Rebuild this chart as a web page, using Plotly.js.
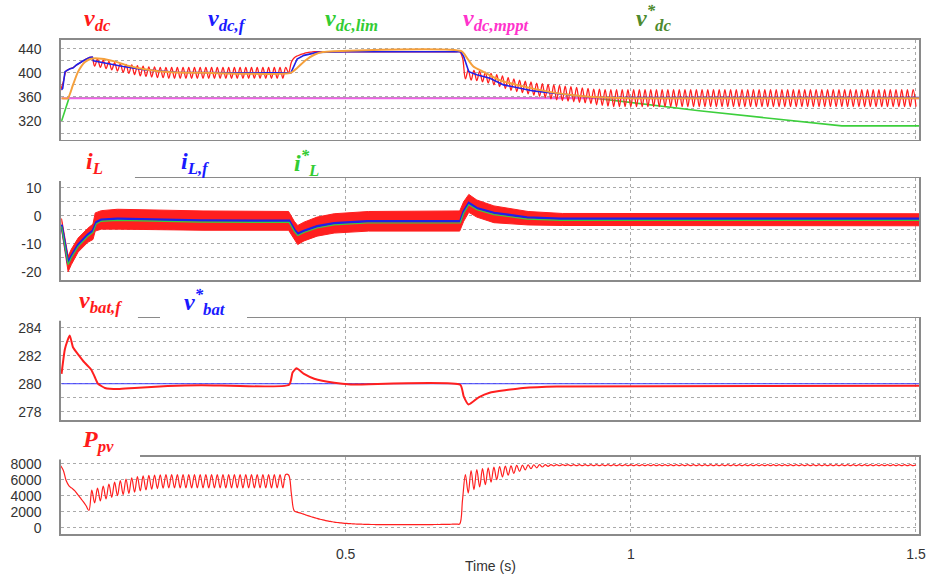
<!DOCTYPE html>
<html>
<head>
<meta charset="utf-8">
<script src="https://cdn.plot.ly/plotly-3.0.1.min.js"></script>
<style>html,body{margin:0;padding:0;background:#fff;}#chart{width:930px;height:574px;}</style>
</head>
<body>
<div id="chart"></div>
<script>
// ---------------- DATA ----------------
const T_STEP = 0.005; // sampling step of the rippled traces (s)

// Panel 1: v_dc (red, rippled) in three sampled segments
const vdcRiseStart = 0.000;
const vdcRise = [
370,385,403,406,408,410.5,414,417,420,423,425,426,
411,423,409,421,407,419,405,417,403,415,401,414,399,413,397,412,395,411,394,410,393,410,392,409,392,409,391,
409,391,409,391,409,391,409,391,409,391,
409,391,409,391,409,391,409,391,409,391,
409,391,409,391,409,391,409,391,409,391,
409,391,409,391,409,391,409,391,409,391,
409,
400,418,425,428,430,431.5,433,434,434.5
];
const vdcHighStart = 0.445;
const vdcHigh = [
435,435,435,435,435,435,435,435,435,435,435,435,435,
435,435,435,435,435,435,435,435,435,435,435,435,435,
435,435,435,435,435,435,435,435,435,435,435,435,435,
435,435,435,435,435,435,435,435,435,435,435,435,435
];
const vdcFallStart = 0.705;
const vdcFall = [
425,390,405,388,404,387,403,385,401,383,399,380,397,377,395,374,392,371,390,369,388,367,386,365,385,363,383,361,382,359,381,357,380,355,379,354,378,353,377,352,376,351,375,350,374,349,373,347,373,346,372,345,372,
344,372,344,372,344,372,344,372,344,372,
344,372,344,372,344,372,344,372,344,372,
344,372,344,372,344,372,344,372,344,372,
344,372,344,372,344,372,344,372,344,372,
344,372,344,372,344,372,344,372,344,372,
344,372,344,372,344,372,344,372,344,372,
344,372,344,372,344,372,344,372,344,372,
344,372,344,372,344,372,344,372,344,372,
344,372,344,372,344,372,344,372,344,372,
344,372,344,372,344,372,344,372,344,372,
344,372,344,372,344,372,
344
];
// v_dc,f (blue)
const vdcfT = [0.002,0.004,0.008,0.0166,0.022,0.028,0.04,0.051,0.056,0.058,0.08,0.11,0.15,0.203,0.3,0.404,0.415,0.427,0.45,0.5,0.702,0.707,0.716,0.73,0.753,0.777,0.829,0.887,0.934,1.0,1.506];
const vdcfV = [372,374,402,406.7,408,413,420,425.5,426,420,416,410.5,405,401,400,400,423,429,434,435,435,427,402,396.7,391,380,370,363.3,359,359,359];
// v*_dc (orange line)
const vdcRefT = [0.002,0.013,0.022,0.031,0.043,0.054,0.072,0.095,0.118,0.153,0.194,0.25,0.404,0.415,0.43,0.445,0.46,0.48,0.703,0.713,0.724,0.741,0.77,0.8,0.86,0.9,0.94,1.0,1.506];
const vdcRefV = [358,358,380,402,418,423.5,423.5,419,412,405,401,400,400,408,421,430,434.5,436,436,424.4,410.5,402,388,380,368,363,359.5,358,358];
// v_dc,lim (green)
const vdcLimT = [0.002,0.015,0.937,1.12,1.37,1.506];
const vdcLimV = [320,358,358,337,312,312];
// v_dc,mppt (magenta)
const vdcMpptT = [0.002,1.506];
const vdcMpptV = [358,358];

// Panel 2: i_L band (red), i_L,f (blue), i*_L (green)
const iLBandT = [0.002,0.0076,0.0135,0.019,0.031,0.048,0.057,0.061,0.0716,0.1,0.16,0.25,0.4,0.41,0.416,0.427,0.45,0.48,0.54,0.70,0.707,0.716,0.73,0.76,0.82,0.88,1.506];
const iLTop    = [-1,-7,-14.5,-12,-8,-4.5,-3,1,1.8,2.3,2,1.7,1.5,-2,-3.5,-2.3,-0.5,0.7,1.5,1.7,5,7.6,5.6,3.5,1.5,0.8,0.7];
const iLBottom = [-5,-12,-20,-17.5,-13,-9.5,-8.5,-5.5,-4.8,-4.8,-5,-5.2,-5.2,-8.5,-10.3,-9,-7.3,-6.2,-5.5,-5.5,-2,1.2,-0.5,-2.5,-3.3,-3.5,-3.6];
const iLfT = [0.002,0.0076,0.0135,0.019,0.031,0.048,0.057,0.063,0.0716,0.1,0.159,0.246,0.401,0.41,0.416,0.427,0.45,0.48,0.538,0.701,0.707,0.716,0.73,0.76,0.818,0.876,1.506];
const iLfV   = [-3.2,-10.4,-16.9,-14.5,-10.4,-6.8,-5.4,-2.3,-1.4,-1.1,-1.3,-1.7,-1.8,-5,-6.5,-5.4,-3.8,-2.7,-2.0,-2.0,1.5,4.5,2.7,1,-0.6,-1.1,-1.1];
const iLRefV = [-3.8,-11,-17.5,-15.1,-11,-7.4,-6,-2.9,-2,-1.7,-1.9,-2.3,-2.4,-5.6,-7.1,-6,-4.4,-3.3,-2.6,-2.6,0.9,3.9,2.1,0.4,-1.2,-1.7,-1.7];

// Panel 3: v_bat,f (red), v*_bat (blue)
const vbatT = [0.002,0.008,0.0163,0.022,0.031,0.0425,0.054,0.06,0.066,0.078,0.101,0.13,0.188,0.247,0.401,0.407,0.414,0.427,0.445,0.48,0.509,0.701,0.707,0.7156,0.734,0.7525,0.782,0.811,0.87,1.506];
const vbatV = [280.7,282.5,283.45,282.6,282.1,281.5,281.0,280.5,280.0,279.7,279.62,279.7,279.83,279.9,279.93,280.8,281.1,280.7,280.36,280.07,279.95,279.93,279.1,278.52,279.05,279.36,279.55,279.7,279.81,279.86];
const vbatRefT = [0.002,1.506];
const vbatRefV = [280,280];

// Panel 4: P_pv (red, rippled) in three sampled segments
const ppvAStart = 0.000;
const ppvA = [
7800,7200,5900,5250,4950,4650,4170,3720,3260,2750,2150,
4700,3100,4950,3350,5200,3600,5450,3800,5700,4000,5900,4150,6100,4300,6250,4450,6400,4600,6480,4720,6550,4820,6600,4900,6630,4950,
6650,4970,6650,4970,6650,4970,6650,4970,6650,4970,
6650,4970,6650,4970,6650,4970,6650,4970,6650,4970,
6650,4970,6650,4970,6650,4970,6650,4970,6650,4970,
6650,4970,6650,4970,6650,4970,6650,4970,6650,4970,
6650,4970,
6650
];
const ppvBStart = 0.400;
const ppvB = [
6600,4200,2100,1950,1850,1720,1600,1480,1370,1260,1160,1060,970,890,820,760,700,650,610,570,540,510,490,470,450,440,430,
420,410,400,395,390,385,380,380,375,375,375,370,370,370,370,370,375,375,380,380,380,385,390,390,395,400,400,405,410,420,430,440,450,460
];
const ppvCStart = 0.705;
const ppvC = [
3500,6650,4330,7160,4760,7280,5100,7400,5390,7500,5700,7580,6020,7650,6350,7700,6570,7750,6800,7800,7050,7830,7250,7860,7400,7880,7500,7900,7600,7900,7680,7900,7730,7900,7760,7900,7780,
7890,7770,7890,7770,7890,7770,7890,7770,7890,7770,
7890,7770,7890,7770,7890,7770,7890,7770,7890,7770,
7890,7770,7890,7770,7890,7770,7890,7770,7890,7770,
7890,7770,7890,7770,7890,7770,7890,7770,7890,7770,
7890,7770,7890,7770,7890,7770,7890,7770,7890,7770,
7890,7770,7890,7770,7890,7770,7890,7770,7890,7770,
7890,7770,7890,7770,7890,7770,7890,7770,7890,7770,
7890,7770,7890,7770,7890,7770,7890,7770,7890,7770,
7890,7770,7890,7770,7890,7770,7890,7770,7890,7770,
7890,7770,7890,7770,7890,7770,7890,7770,7890,7770,
7890,7770,7890,7770,7890,7770,7890,7770,7890,7770,
7890,7770,7890,7770,7890,7770,7890,7770,7890,7770,
7890,7770,
7890
];

// Tick labels (major, labelled) and minor grid steps
const X_TICKS = [0.5, 1, 1.5];
const X_TICK_TEXT = ['0.5', '1', '1.5'];
const VDC_TICKS = [320,360,400,440];
const VDC_TEXT  = ['320','360','400','440'];
const VDC_MINOR = [300,340,380,420];
const IL_TICKS = [-20,-10,0,10];
const IL_TEXT  = ['-20','-10','0','10'];
const IL_MINOR = [-15,-5,5];
const VBAT_TICKS = [278,280,282,284];
const VBAT_TEXT  = ['278','280','282','284'];
const VBAT_MINOR = [279,281,283];
const PPV_TICKS = [0,2000,4000,6000,8000];
const PPV_TEXT  = ['0','2000','4000','6000','8000'];

// ---------------- BUILD ----------------
function sampleTimes(start, n) {
  return Array.from({length: n}, (_, i) => +(start + i * T_STEP).toFixed(4));
}
const vdcX = [].concat(sampleTimes(vdcRiseStart, vdcRise.length), sampleTimes(vdcHighStart, vdcHigh.length), sampleTimes(vdcFallStart, vdcFall.length));
const vdcY = [].concat(vdcRise, vdcHigh, vdcFall);
const ppvX = [].concat(sampleTimes(ppvAStart, ppvA.length), sampleTimes(ppvBStart, ppvB.length), sampleTimes(ppvCStart, ppvC.length));
const ppvY = [].concat(ppvA, ppvB, ppvC);

const RED = '#ff1f1f', BLUE = '#2020e8', GREEN = '#3ccf3c', ORANGE = '#f5a03c', MAGENTA = '#f060e8';

const traces = [
  // panel 1 (x4/y4)
  {x: vdcLimT, y: vdcLimV, xaxis:'x4', yaxis:'y4', mode:'lines', line:{color:GREEN, width:1.6}},
  {x: vdcMpptT, y: vdcMpptV, xaxis:'x4', yaxis:'y4', mode:'lines', line:{color:MAGENTA, width:2}},
  {x: vdcX, y: vdcY, xaxis:'x4', yaxis:'y4', mode:'lines', line:{color:RED, width:1.3, shape:'spline', smoothing:1}},
  {x: vdcfT, y: vdcfV, xaxis:'x4', yaxis:'y4', mode:'lines', line:{color:BLUE, width:1.6}},
  {x: vdcRefT, y: vdcRefV, xaxis:'x4', yaxis:'y4', mode:'lines', line:{color:ORANGE, width:2, shape:'spline', smoothing:0.6}},
  // panel 2 (x3/y3)
  {x: iLBandT, y: iLBottom, xaxis:'x3', yaxis:'y3', mode:'lines', line:{color:RED, width:1}},
  {x: iLBandT, y: iLTop, xaxis:'x3', yaxis:'y3', mode:'lines', fill:'tonexty', fillcolor:RED, line:{color:RED, width:1}},
  {x: iLfT, y: iLfV, xaxis:'x3', yaxis:'y3', mode:'lines', line:{color:BLUE, width:2.5}},
  {x: iLfT, y: iLRefV, xaxis:'x3', yaxis:'y3', mode:'lines', line:{color:GREEN, width:1.2}},
  // panel 3 (x2/y2)
  {x: vbatRefT, y: vbatRefV, xaxis:'x2', yaxis:'y2', mode:'lines', line:{color:'#3a3aff', width:1}},
  {x: vbatT, y: vbatV, xaxis:'x2', yaxis:'y2', mode:'lines', line:{color:RED, width:2, shape:'spline', smoothing:0.5}},
  // panel 4 (x/y)
  {x: ppvX, y: ppvY, xaxis:'x', yaxis:'y', mode:'lines', line:{color:RED, width:1.2, shape:'spline', smoothing:1}}
];

const XR = [0.001, 1.5053];
const gridCol = '#aaaaaa', frameCol = '#8a8a8a';
const tickFont = {family:'Liberation Sans, Arial, sans-serif', size:14, color:'#333'};
function xAx(anchor, labels) {
  return {anchor: anchor, domain:[0,1], range: XR, tickmode:'array', tickvals: X_TICKS, ticktext: X_TICK_TEXT,
    showticklabels: labels, ticks: labels ? 'outside' : '', ticklen: 6, tickcolor:'rgba(0,0,0,0)',
    showgrid:true, gridcolor:gridCol, griddash:'dot', gridwidth:1,
    showline:true, mirror:true, linecolor:frameCol, linewidth:1.6, zeroline:false, tickfont: tickFont};
}
function yAx(anchor, domain, range, tv, tt, minorVals) {
  const ax = {anchor: anchor, domain: domain, range: range, tickmode:'array', tickvals: tv, ticktext: tt,
    ticks:'outside', ticklen:15, tickcolor:'rgba(0,0,0,0)',
    showgrid:true, gridcolor:gridCol, griddash:'dot', gridwidth:1,
    showline:true, mirror:true, linecolor:frameCol, linewidth:1.6, zeroline:false, tickfont: tickFont};
  if (minorVals) {
    ax.minor = {tickmode:'array', tickvals: minorVals, showgrid:true, gridcolor:gridCol, griddash:'dot', gridwidth:1, ticks:''};
  }
  return ax;
}

const SERIF = 'Liberation Serif, Times New Roman, serif';
function lab(text, x, y, color) {
  return {text: '<b><i>' + text + '</i></b>', x: x, y: y, xref:'paper', yref:'paper', xanchor:'center', yanchor:'middle',
    showarrow:false, font:{family:SERIF, size:24, color: color}};
}

const layout = {
  width: 930, height: 574,
  margin: {l:61, r:11, t:20, b:20},
  paper_bgcolor:'#ffffff', plot_bgcolor:'#ffffff',
  showlegend:false,
  xaxis: xAx('y', true),
  xaxis2: xAx('y2', false),
  xaxis3: xAx('y3', false),
  xaxis4: xAx('y4', false),
  yaxis:  yAx('x',  [0.0369, 0.1816], [-830, 8850], PPV_TICKS, PPV_TEXT, null),
  yaxis2: yAx('x2', [0.2509, 0.4414], [277.41, 284.67], VBAT_TICKS, VBAT_TEXT, VBAT_MINOR),
  yaxis3: yAx('x3', [0.5131, 0.7036], [-22.96, 13.36], IL_TICKS, IL_TEXT, IL_MINOR),
  yaxis4: yAx('x4', [0.7758, 0.9631], [289, 455], VDC_TICKS, VDC_TEXT, VDC_MINOR),
  annotations: [
    lab('v<sub>dc</sub>', 0.0431, 1.0, '#ff1a1a'),
    lab('v<sub>dc,f</sub>', 0.1935, 1.0, '#1a1aff'),
    lab('v<sub>dc,lim</sub>', 0.339, 1.0, '#33cc33'),
    lab('v<sub>dc,mppt</sub>', 0.507, 1.0, '#ff33cc'),
    lab('v<sup>*</sup><sub>dc</sub>', 0.691, 1.004, '#4e8a2e'),
    lab('i<sub>L</sub>', 0.0385, 0.7322, '#ff1a1a'),
    lab('i<sub>L,f</sub>', 0.1562, 0.7322, '#1a1aff'),
    lab('i<sup>*</sup><sub>L</sub>', 0.2867, 0.7322, '#33cc33'),
    lab('v<sub>bat,f</sub>', 0.0455, 0.4719, '#ff1a1a'),
    lab('v<sup>*</sup><sub>bat</sub>', 0.1678, 0.4719, '#1a1aff'),
    lab('P<sub>pv</sub>', 0.0431, 0.2116, '#ff1a1a'),
    {text:'Time (s)', x:0.5, y:-0.0225, xref:'paper', yref:'paper', xanchor:'center', yanchor:'middle', showarrow:false,
     font:{family:'Liberation Sans, Arial, sans-serif', size:14, color:'#333'}}
  ],
  shapes: [
    {type:'rect', xref:'paper', yref:'paper', x0:-0.004, x1:0.0862, y0:0.6985, y1:0.7097, fillcolor:'#ffffff', line:{width:0}, layer:'above'},
    {type:'rect', xref:'paper', yref:'paper', x0:-0.004, x1:0.0897, y0:0.4367, y1:0.4480, fillcolor:'#ffffff', line:{width:0}, layer:'above'},
    {type:'rect', xref:'paper', yref:'paper', x0:0.1154, x1:0.2168, y0:0.4367, y1:0.4480, fillcolor:'#ffffff', line:{width:0}, layer:'above'},
    {type:'rect', xref:'paper', yref:'paper', x0:-0.004, x1:0.0921, y0:0.1770, y1:0.1880, fillcolor:'#ffffff', line:{width:0}, layer:'above'}
  ]
};

Plotly.newPlot('chart', traces, layout, {displayModeBar:false, staticPlot:true});
</script>
</body>
</html>
